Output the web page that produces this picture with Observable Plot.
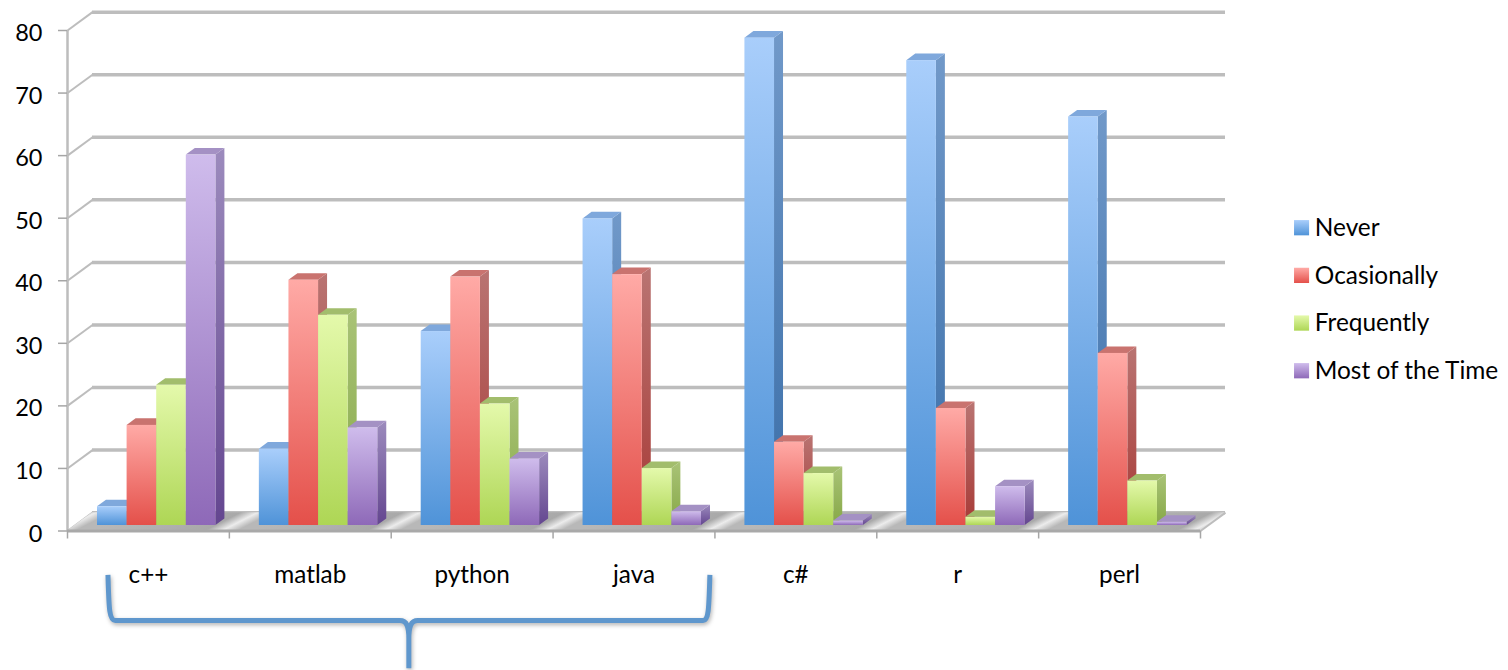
<!DOCTYPE html>
<html>
<head>
<meta charset="utf-8">
<style>
  html, body { margin: 0; padding: 0; background: #fff; }
  svg { display: block; overflow: visible; }
</style>
<script src="https://cdn.jsdelivr.net/npm/d3@7"></script>
<script src="https://cdn.jsdelivr.net/npm/@observablehq/plot@0.6"></script>
</head>
<body>
<div id="chart"></div>
<script>
// Survey responses: how often each language is used.
const categories = ["c++", "matlab", "python", "java", "c#", "r", "perl"];
const seriesNames = ["Never", "Ocasionally", "Frequently", "Most of the Time"];
const never = [3, 12.2, 31, 49, 77.9, 74.3, 65.3];
const ocasionally = [16, 39.2, 39.7, 40.1, 13.3, 18.7, 27.5];
const frequently = [22.4, 33.6, 19.4, 9.1, 8.3, 1.3, 7.1];
const mostOfTheTime = [59.2, 15.6, 10.6, 2.2, 0.7, 6.2, 0.5];
const yTicks = [0, 10, 20, 30, 40, 50, 60, 70, 80];

const seriesValues = [never, ocasionally, frequently, mostOfTheTime];

// Face shading for each series: front (light to saturated), side and top.
const frontStops = [["#a9cefb", "#4f93d8"], ["#ffaaa6", "#e4504a"], ["#e4f9ab", "#aed655"], ["#cfbcec", "#8e69b8"]];
const sideStops = [["#7199c9", "#3a6ea8"], ["#b97472", "#a83a36"], ["#a9c377", "#86a846"], ["#9c8bbd", "#644690"]];
const topFill = ["#7fa8dc", "#c9736f", "#a2bd6c", "#a491c4"];

// Pseudo-3D geometry, in data units of the x and y scales.
const wallDepthX = 0.1545, wallDepthY = 2.93;
const barDepthX = 0.0556, barDepthY = 1.05;
const barLift = 0.88, groupStart = 0.1853, barWidth = 0.1829;

const rows = seriesNames.map((name, s) =>
  categories.map((category, c) => {
    const x1 = c + groupStart + s * barWidth;
    const value = seriesValues[s][c];
    return {category, name, value, x1, x2: x1 + barWidth, y1: barLift, y2: barLift + value};
  })
);

// One gradient per face type, shared through url() fills.
function gradient(defs, id, [a, b]) {
  const g = defs.append("linearGradient").attr("id", id)
    .attr("x1", 0).attr("y1", 0).attr("x2", 0).attr("y2", 1);
  g.append("stop").attr("offset", "0%").attr("stop-color", a);
  g.append("stop").attr("offset", "100%").attr("stop-color", b);
}

// The floor's slanted sheen repeats once per category band.
const gradients = (index, {x}) => {
  const defs = d3.create("svg:defs");
  frontStops.forEach((stops, s) => gradient(defs, `front${s}`, stops));
  sideStops.forEach((stops, s) => gradient(defs, `side${s}`, stops));
  const floor = defs.append("linearGradient").attr("id", "floorSheen")
    .attr("gradientUnits", "userSpaceOnUse")
    .attr("x1", 0).attr("y1", 0).attr("x2", x(1) - x(0)).attr("y2", 0)
    .attr("gradientTransform", "skewX(-63)")
    .attr("spreadMethod", "repeat");
  [[0, "#b8b8b8"], [0.7, "#a9a9a9"], [0.806, "#ececec"], [0.9, "#b8b8b8"], [1, "#b8b8b8"]]
    .forEach(([o, c]) => floor.append("stop").attr("offset", o).attr("stop-color", c));
  return defs.node();
};

// Parallelogram sides and tops, then the front face, bar by bar from left to right.
function barMarks(data, s) {
  const sides = data.flatMap((d, i) => [
    {id: i, x: d.x2, y1: d.y1, y2: d.y2},
    {id: i, x: d.x2 + barDepthX, y1: d.y1 + barDepthY, y2: d.y2 + barDepthY}
  ]);
  const tops = data.flatMap((d, i) => [
    {id: i, y: d.y2, x1: d.x1, x2: d.x2},
    {id: i, y: d.y2 + barDepthY, x1: d.x1 + barDepthX, x2: d.x2 + barDepthX}
  ]);
  return data.flatMap((d, i) => [
    Plot.areaY(sides.filter((p) => p.id === i), {x: "x", y1: "y1", y2: "y2", fill: `url(#side${s})`}),
    Plot.areaX(tops.filter((p) => p.id === i), {y: "y", x1: "x1", x2: "x2", fill: topFill[s]}),
    Plot.rect([d], {x1: "x1", x2: "x2", y1: "y1", y2: "y2", fill: `url(#front${s})`})
  ]);
}

// Curly bracket under the first four categories.
const brace = (index, {x, y}) => {
  const [l, lc, mid, rc, r] = [0.253, 0.298, 2.112, 3.93, 3.972].map(x);
  const [top, bar, tip] = [-7.1, -14.4, -22].map(y);
  const d = `M${l},${top} C${l + 1},${bar - 14} ${l + 1},${bar} ${lc},${bar} L${mid - 9},${bar}
    C${mid - 2},${bar} ${mid},${bar + 6} ${mid},${bar + 18} L${mid},${tip}
    M${mid},${bar + 18} C${mid},${bar + 6} ${mid + 2},${bar} ${mid + 9},${bar} L${rc},${bar}
    C${r - 1},${bar} ${r - 1},${bar - 14} ${r},${top}`;
  return d3.create("svg:path").attr("d", d).attr("fill", "none")
    .attr("stroke", "#5f97cd").attr("stroke-width", 5)
    .style("filter", "drop-shadow(1px 2px 2px rgba(0,0,0,.3))").node();
};

const legendRows = seriesNames.map((name, s) => ({name, s, y: 48.4 - s * 7.62}));
const boundaries = d3.range(categories.length + 1);
const floorPoints = [
  {y: 0, x1: 0, x2: categories.length},
  {y: wallDepthY, x1: wallDepthX, x2: categories.length + wallDepthX}
];

const chart = Plot.plot({
  width: 1508,
  height: 670,
  marginLeft: 67,
  marginRight: 308,
  marginTop: 30,
  marginBottom: 139.5,
  style: {fontFamily: "Lato, sans-serif", background: "#fff", color: "#000"},
  x: {domain: [0, categories.length], axis: null},
  y: {domain: [0, 80], axis: null},
  marks: [
    gradients,
    // Back wall gridlines, side wall diagonals, floor
    Plot.ruleY(yTicks, {
      y: (d) => d + wallDepthY,
      x1: wallDepthX,
      x2: categories.length + wallDepthX,
      stroke: "#bdbdbd",
      strokeWidth: 3.5
    }),
    Plot.link(yTicks, {
      x1: 0, y1: (d) => d,
      x2: wallDepthX, y2: (d) => d + wallDepthY,
      stroke: "#bdbdbd",
      strokeWidth: 2
    }),
    Plot.areaX(floorPoints, {y: "y", x1: "x1", x2: "x2", fill: "url(#floorSheen)"}),
    Plot.ruleX([0], {y1: 0, y2: 80, stroke: "#bdbdbd", strokeWidth: 2.5}),
    Plot.ruleY([0], {x1: 0, x2: categories.length, stroke: "#a9a9a9", strokeWidth: 3}),
    Plot.link([0], {
      x1: categories.length, y1: 0,
      x2: categories.length + wallDepthX, y2: wallDepthY,
      stroke: "#bdbdbd",
      strokeWidth: 2
    }),

    // Bars
    ...rows.flatMap(barMarks),

    // Axes
    Plot.axisY({ticks: yTicks, tickSize: 9, stroke: "#a6a6a6", strokeWidth: 1.5, tickFormat: () => "", label: null}),
    Plot.axisY({ticks: yTicks, tickSize: 0, tickPadding: 25, fontSize: 23.5, dy: 3, label: null}),
    Plot.axisX({ticks: boundaries, tickSize: 8, stroke: "#a6a6a6", strokeWidth: 1.5, tickFormat: () => "", label: null}),
    Plot.text(categories, {
      x: (d, i) => i + 0.5,
      y: 0,
      dy: 44,
      text: (d) => d,
      fontSize: 24.3,
      fill: "#000"
    }),

    brace,

    // Legend
    Plot.rect(legendRows, {
      x1: 7.581, x2: 7.674,
      y1: (d) => d.y - 1.22, y2: (d) => d.y + 1.22,
      fill: (d) => `url(#front${d.s})`
    }),
    Plot.text(legendRows, {
      x: 7.706,
      y: "y",
      text: "name",
      textAnchor: "start",
      fontSize: 24.4,
      fill: "#000"
    })
  ]
});

document.getElementById("chart").append(chart);
</script>
</body>
</html>
